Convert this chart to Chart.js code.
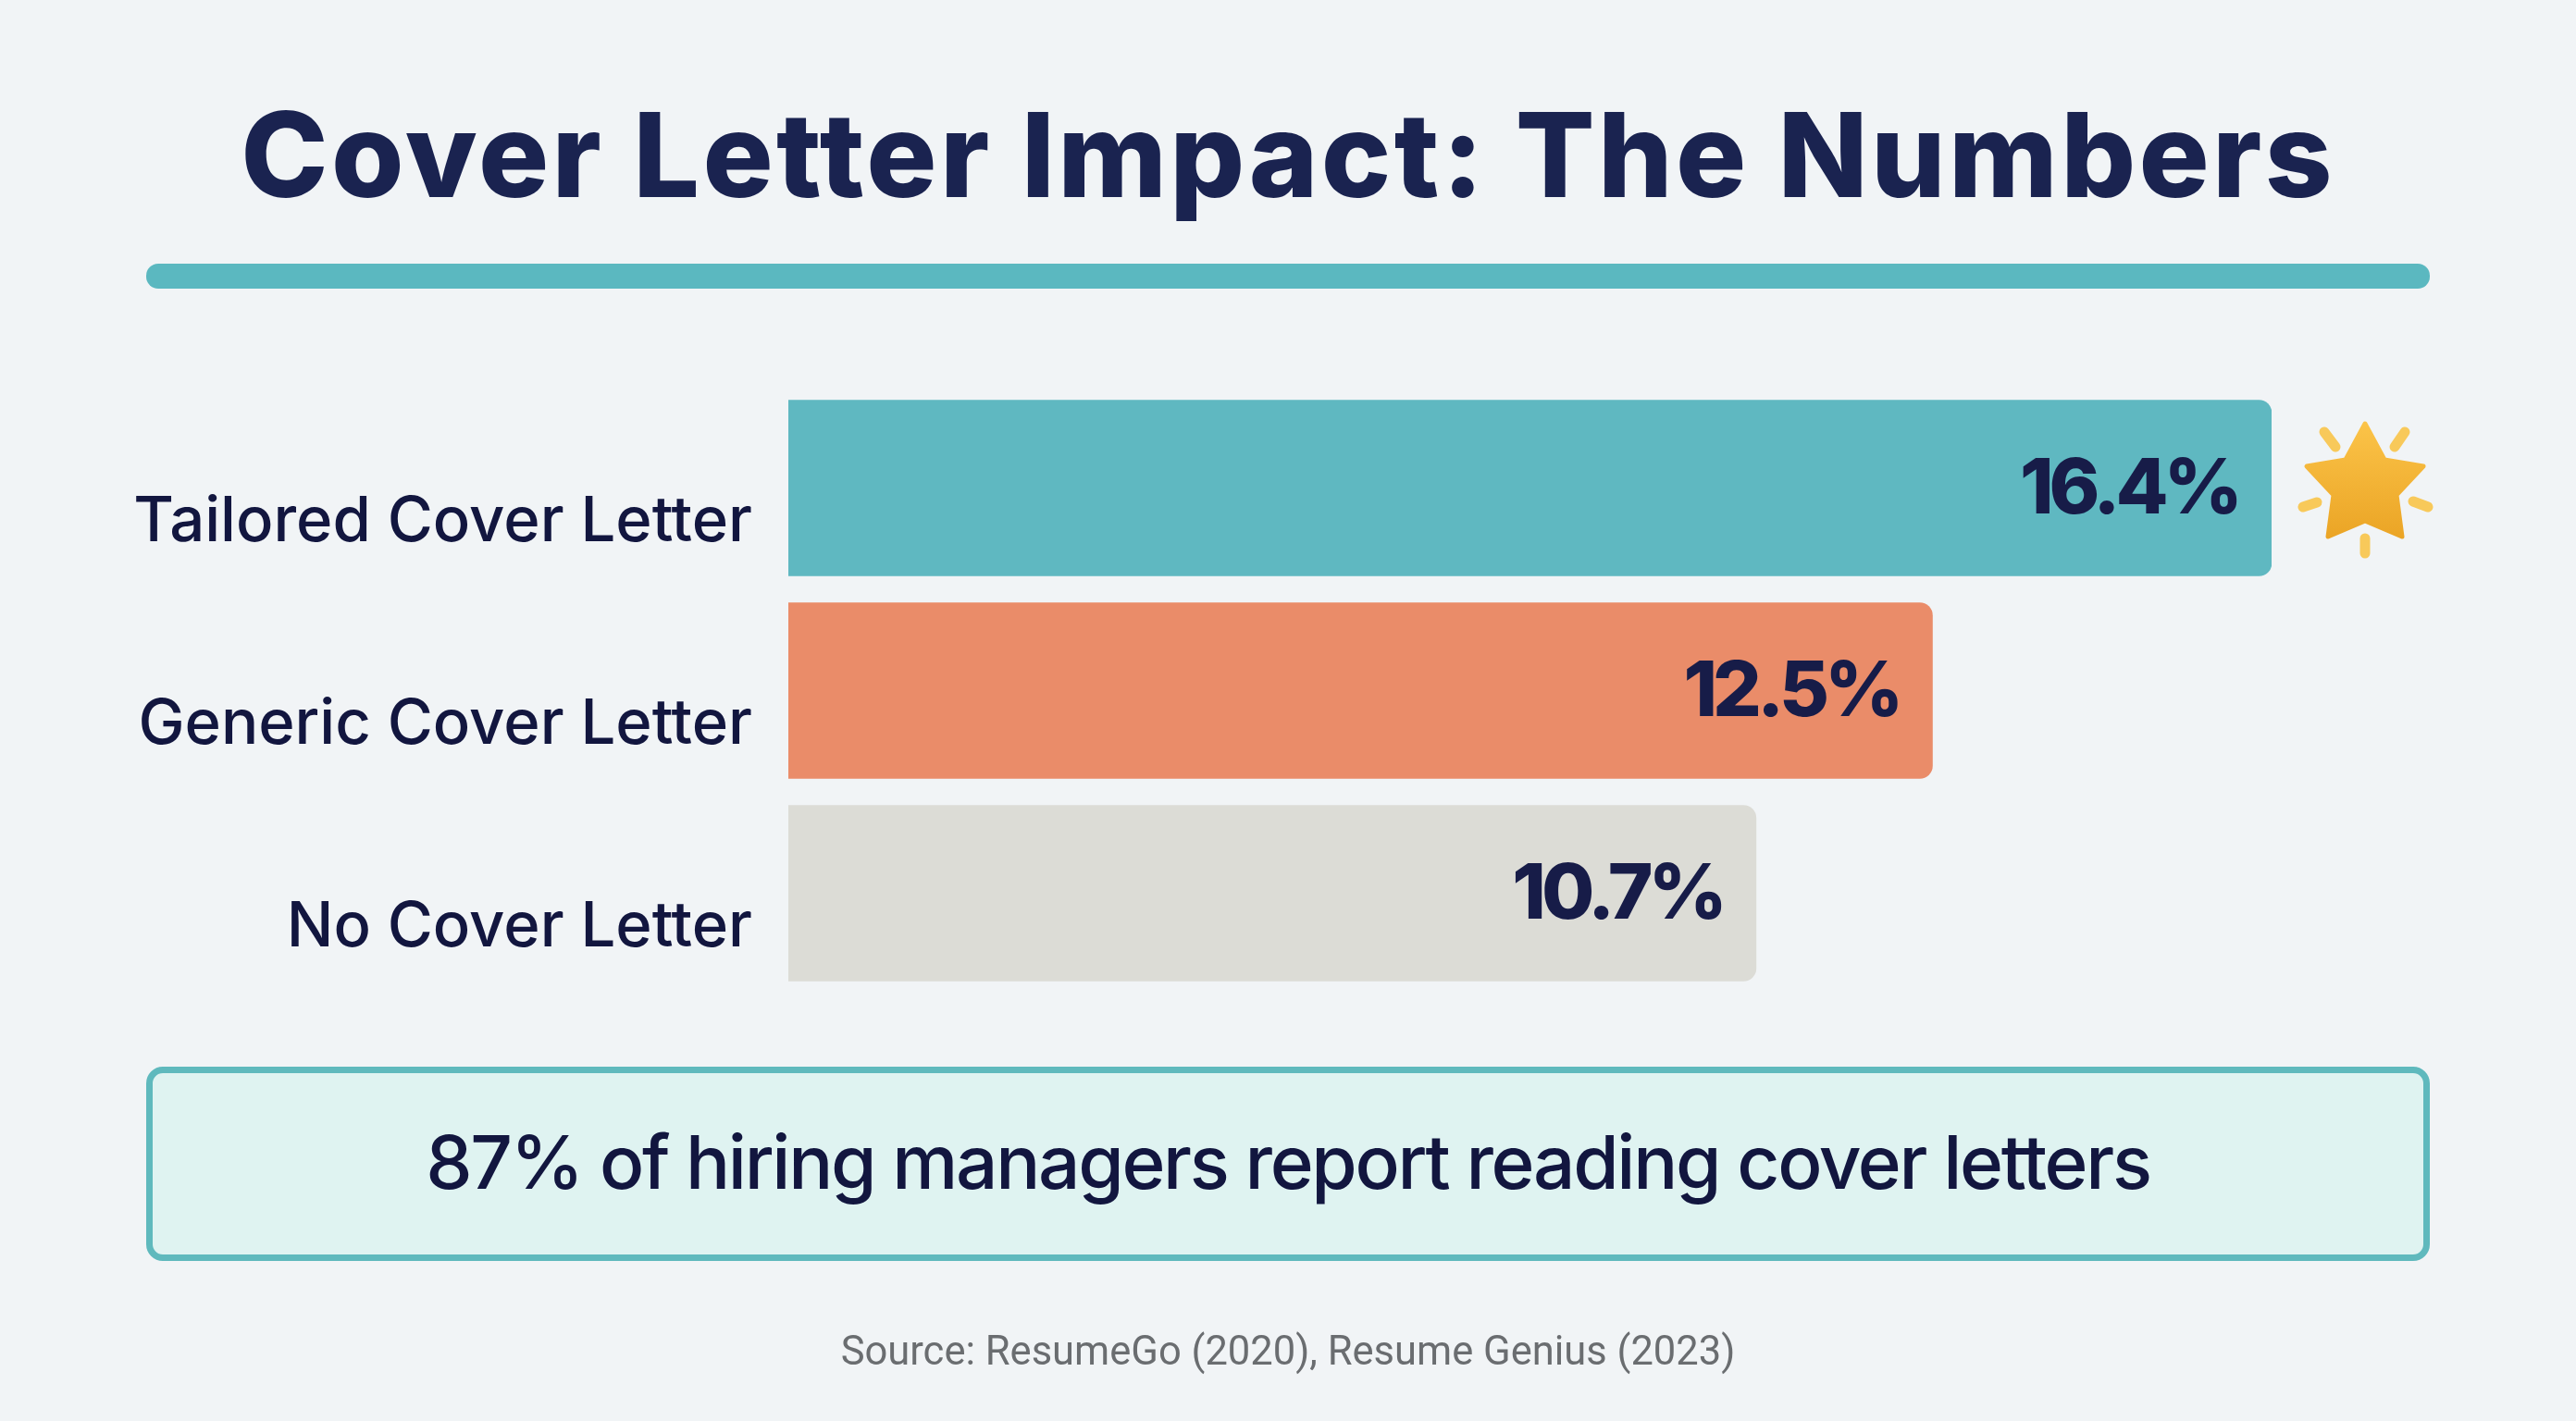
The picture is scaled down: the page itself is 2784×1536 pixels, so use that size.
<!DOCTYPE html>
<html>
<head>
<meta charset="utf-8">
<title>Cover Letter Impact</title>
<script src="https://cdn.jsdelivr.net/npm/chart.js@4"></script>
<style>
  html, body { margin: 0; padding: 0; background: #f1f4f6; }
  #wrap { position: relative; width: 2784px; height: 1536px; overflow: hidden; font-family: Inter, sans-serif; color: #12163f; }
  #myChart { position: absolute; left: 0; top: 0; }
  #title { position: absolute; left: 0; width: 2784px; top: 90px; text-align: center; font-size: 127px; line-height: 154px; font-weight: 800; letter-spacing: 3.3px; color: #1a2350; white-space: nowrap; }
  #rule { position: absolute; left: 158px; width: 2468px; top: 285px; height: 27px; border-radius: 13px; background: #5bb8c0; }
  #callout { position: absolute; left: 158px; top: 1153px; width: 2454px; height: 196px; border: 7px solid #5fb9bd; border-radius: 18px; background: #dff3f1; text-align: center; font-size: 80px; font-weight: 500; letter-spacing: -2.3px; line-height: 192px; white-space: nowrap; }
  #source { position: absolute; left: 0; width: 2784px; top: 1435px; text-align: center; font-family: Roboto, sans-serif; font-size: 43.5px; line-height: 52px; color: #6a6d70; white-space: nowrap; }
  #star { position: absolute; left: 2470px; top: 440px; }
</style>
</head>
<body>
<div id="wrap">
  <canvas id="myChart" width="2784" height="1536"></canvas>
  <div id="title">Cover Letter Impact: The Numbers</div>
  <div id="rule"></div>
  <svg id="star" width="170" height="170" viewBox="2470 440 170 170">
    <defs>
      <linearGradient id="starFill" x1="0" y1="0" x2="0" y2="1">
        <stop offset="0" stop-color="#fbc348"/>
        <stop offset="1" stop-color="#eba526"/>
      </linearGradient>
    </defs>
    <g stroke="#f8c95a" stroke-width="11" stroke-linecap="round">
      <line x1="2512" y1="467" x2="2524" y2="483"/>
      <line x1="2599" y1="467" x2="2588" y2="483"/>
      <line x1="2489" y1="548" x2="2504" y2="543"/>
      <line x1="2608" y1="542" x2="2624" y2="548"/>
      <line x1="2556" y1="582" x2="2556" y2="598"/>
    </g>
    <path d="M2556 458 L2577 497 L2619 504 L2590 535 L2596 580 L2556 563 L2516 580 L2522 535 L2493 504 L2535 497 Z" fill="url(#starFill)" stroke="url(#starFill)" stroke-width="5" stroke-linejoin="round"/>
  </svg>
  <div id="callout">87% of hiring managers report reading cover letters</div>
  <div id="source">Source: ResumeGo (2020), Resume Genius (2023)</div>
</div>
<script>
const categories = ["Tailored Cover Letter", "Generic Cover Letter", "No Cover Letter"]
// bar lengths as drawn in the picture: the middle bar runs a little past its printed 12.5
const barLengths = [16.4, 12.65, 10.7]
const printedLabels = ["16.4%", "12.5%", "10.7%"]
const barColors = ["#5fb8c1", "#ea8c69", "#dcdcd6"]

const valueLabels = {
    id: "valueLabels",
    afterDatasetsDraw(chart) {
        const ctx = chart.ctx
        ctx.save()
        ctx.font = "800 83px Inter"
        ctx.letterSpacing = "-5px"
        ctx.fillStyle = "#171c48"
        ctx.textAlign = "right"
        ctx.textBaseline = "middle"
        chart.getDatasetMeta(0).data.forEach((bar, i) => {
            ctx.fillText(printedLabels[i], bar.x - 36, bar.y + 3)
        })
        ctx.restore()
    }
}

new Chart("myChart", {
    type: "bar",
    data: {
        labels: categories,
        datasets: [{
            data: barLengths,
            backgroundColor: barColors,
            barThickness: 190,
            borderRadius: {topRight: 14, bottomRight: 14, topLeft: 0, bottomLeft: 0},
            borderSkipped: false,
        }]
    },
    options: {
        indexAxis: "y",
        responsive: false,
        animation: false,
        layout: {padding: {top: 418, bottom: 461, right: 329, left: 0}},
        plugins: {legend: {display: false}, tooltip: {enabled: false}},
        scales: {
            x: {display: false, min: 0, max: 16.4},
            y: {
                afterFit(axis) { axis.width = 852 },
                grid: {display: false},
                border: {display: false},
                ticks: {
                    color: "#12163f",
                    padding: 31,
                    labelOffset: 37,
                    font: {family: "Inter", size: 67, weight: "500"},
                }
            }
        }
    },
    plugins: [valueLabels]
})
</script>
</body>
</html>
